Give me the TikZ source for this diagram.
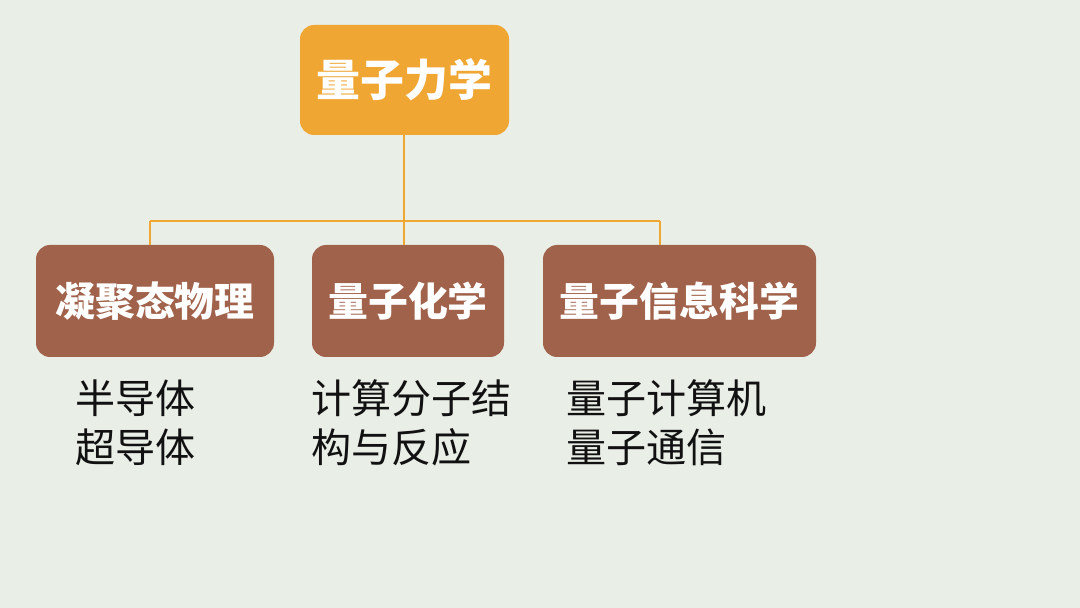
\documentclass[tikz,border=0pt]{standalone}
\usepackage{fontspec}
\newfontfamily\cjk{Noto Sans CJK SC}
\usetikzlibrary{positioning, calc}
\definecolor{bgpale}{HTML}{E9EEE6}
\definecolor{amber}{HTML}{F0A632}
\definecolor{rust}{HTML}{A1624C}
\definecolor{inkdark}{HTML}{111111}
\tikzset{
  root/.style={rectangle, rounded corners=8pt, minimum width=4.18cm, minimum height=2.2cm,
    text centered, fill=amber, text=white, font=\cjk\bfseries\fontsize{25}{29}\selectfont},
  branch/.style={rectangle, rounded corners=8pt, minimum height=2.24cm,
    text centered, fill=rust, text=white, font=\cjk\bfseries\fontsize{22.7}{26}\selectfont},
  leaf/.style={anchor=north west, align=left, inner sep=0pt, text=inkdark,
    font=\cjk\fontsize{22.8}{28}\selectfont},
  link/.style={draw=amber, line width=1.3pt},
}

\begin{document}
\begin{tikzpicture}
  \fill[bgpale] (0,0) rectangle (21.6,12.16);
  \useasboundingbox (0,0) rectangle (21.6,12.16);

  \node[root] (qm) at (8.09,10.56) {量子力学};
  \node[branch, minimum width=4.76cm] (cmp) at (3.1,6.14) {凝聚态物理};
  \node[branch, minimum width=3.84cm] (qchem) at (8.16,6.14) {量子化学};
  \node[branch, minimum width=5.46cm] (qinfo) at (13.59,6.14) {量子信息科学};

  % bus of the tree
  \coordinate (hub) at (8.08,7.74);
  \coordinate (busl) at (3.0,7.74);
  \coordinate (busr) at (13.2,7.74);
  \draw[link] (qm.south -| hub) -- (hub);
  \draw[link] (busl) -- (busr);
  \draw[link] (busl) -- (busl |- cmp.north);
  \draw[link] (hub) -- (hub |- qchem.north);
  \draw[link] (busr) -- (busr |- qinfo.north);

  \node[leaf] (cmpl) at (1.5,4.58) {半导体\\超导体};
  \node[leaf] (qcheml) at (6.22,4.58) {计算分子结\\构与反应};
  \node[leaf] (qinfol) at (11.32,4.58) {量子计算机\\量子通信};
\end{tikzpicture}
\end{document}
